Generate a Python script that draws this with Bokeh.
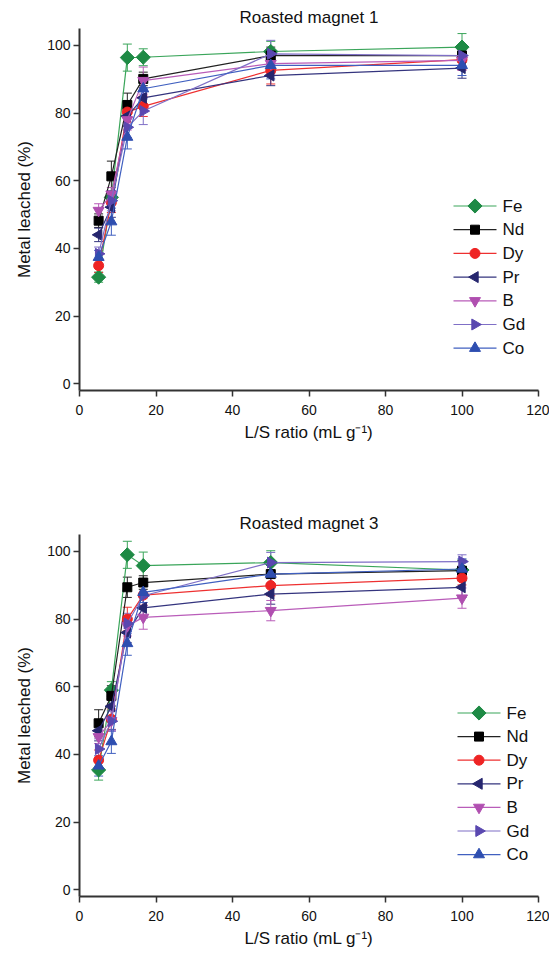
import numpy as np
from bokeh.plotting import figure
from bokeh.layouts import column
from bokeh.models import ColumnDataSource, Whisker, TeeHead, Range1d
from bokeh.core.properties import value
from bokeh.embed import file_html
from bokeh.resources import INLINE

ls_ratio = [5, 8.33, 12.5, 16.67, 50, 100]
metals = ["Fe", "Nd", "Dy", "Pr", "B", "Gd", "Co"]

# Roasted magnet 1
m1_values = {
    "Fe": [31.5, 55.1, 96.4, 96.5, 98.2, 99.5],
    "Nd": [48.2, 61.3, 82.4, 90.1, 97.0, 97.0],
    "Dy": [34.9, 53.6, 80.3, 82.0, 92.6, 95.8],
    "Pr": [44.0, 52.2, 79.1, 84.5, 91.1, 93.3],
    "B":  [51.2, 56.0, 78.0, 89.6, 94.6, 95.6],
    "Gd": [38.4, 54.1, 75.8, 80.6, 97.5, 97.0],
    "Co": [37.4, 47.9, 72.9, 87.2, 94.1, 94.1],
}
m1_errors = {
    "Fe": [1.5, 2.0, 4.0, 2.5, 3.0, 4.0],
    "Nd": [2.0, 4.5, 3.5, 2.0, 2.5, 2.0],
    "Dy": [2.0, 3.0, 3.0, 3.0, 4.0, 3.0],
    "Pr": [2.0, 3.0, 3.0, 3.0, 3.0, 3.0],
    "B":  [2.0, 2.0, 3.0, 4.0, 3.0, 3.0],
    "Gd": [2.0, 3.0, 3.0, 4.0, 4.0, 3.0],
    "Co": [2.0, 4.0, 3.5, 3.0, 4.0, 3.0],
}

# Roasted magnet 3
m3_values = {
    "Fe": [35.4, 59.0, 99.0, 95.8, 96.7, 94.5],
    "Nd": [49.2, 57.3, 89.4, 90.8, 93.3, 94.3],
    "Dy": [38.3, 50.4, 80.0, 87.1, 89.9, 92.1],
    "Pr": [47.0, 54.2, 76.0, 83.3, 87.4, 89.4],
    "B":  [45.2, 50.0, 78.0, 80.5, 82.5, 86.2],
    "Gd": [41.6, 49.8, 78.7, 86.9, 96.7, 97.0],
    "Co": [36.6, 43.8, 72.8, 87.9, 93.3, 94.8],
}
m3_errors = {
    "Fe": [3.0, 2.5, 4.0, 4.0, 3.5, 3.0],
    "Nd": [4.0, 3.0, 3.0, 2.0, 3.0, 3.0],
    "Dy": [3.0, 3.0, 3.5, 3.0, 3.0, 2.0],
    "Pr": [3.0, 3.0, 3.0, 3.0, 3.0, 3.0],
    "B":  [2.0, 3.0, 3.0, 3.5, 3.0, 3.0],
    "Gd": [3.0, 3.0, 3.0, 3.0, 3.0, 2.0],
    "Co": [3.0, 3.5, 3.5, 3.0, 3.0, 3.0],
}

x_ticks = [0, 20, 40, 60, 80, 100, 120]
y_ticks = [0, 20, 40, 60, 80, 100]

style = {
    "Fe": dict(marker="square", angle=np.pi / 4, fill="#1e8a45", line="#3aa55a", size=10),
    "Nd": dict(marker="square", angle=0.0, fill="#000000", line="#222222", size=9),
    "Dy": dict(marker="circle", angle=0.0, fill="#ee2424", line="#ee3030", size=10),
    "Pr": dict(marker="triangle", angle=np.pi / 2, fill="#26266e", line="#34347e", size=11),
    "B":  dict(marker="inverted_triangle", angle=0.0, fill="#b04fb0", line="#b95cb9", size=11),
    "Gd": dict(marker="triangle", angle=-np.pi / 2, fill="#5a48b0", line="#7f6fc6", size=11),
    "Co": dict(marker="triangle", angle=0.0, fill="#2e4eb0", line="#4060c0", size=11),
}

FONT = "Liberation Sans"
FRAME_W = 459
FRAME_H = 362


def make_fig(title, values, errors, top_border, legend_x, legend_y0, legend_step):
    p = figure(frame_width=FRAME_W, frame_height=FRAME_H, output_backend="svg",
               toolbar_location=None, x_range=Range1d(0, 120), y_range=Range1d(-2, 105),
               min_border_left=79, min_border_right=11, min_border_top=top_border,
               min_border_bottom=0, title=title)
    p.title.text_font = FONT
    p.title.text_font_size = "17px"
    p.title.text_font_style = "normal"
    p.title.align = "center"
    p.title.standoff = 4
    p.title.text_color = "#111111"
    p.grid.visible = False
    p.outline_line_color = None
    for ax in (p.xaxis[0], p.yaxis[0]):
        ax.axis_line_width = 2
        ax.axis_line_color = "#333333"
        ax.major_tick_line_color = "#333333"
        ax.major_tick_line_width = 1.5
        ax.major_tick_out = 6
        ax.major_tick_in = 0
        ax.minor_tick_line_color = None
        ax.major_label_text_font = FONT
        ax.major_label_text_font_size = "14px"
        ax.major_label_text_color = "#111111"
        ax.axis_label_text_font = FONT
        ax.axis_label_text_font_size = "17px"
        ax.axis_label_text_font_style = "normal"
        ax.axis_label_text_color = "#111111"
    p.xaxis.ticker = x_ticks
    p.yaxis.ticker = y_ticks
    p.xaxis.axis_label = "L/S ratio (mL g\u207b\u00b9)"
    p.yaxis.axis_label = "Metal leached (%)"
    p.xaxis.axis_label_standoff = 5
    p.yaxis.axis_label_standoff = 10
    p.xaxis.major_label_standoff = 8
    p.yaxis.major_label_standoff = 3

    # legend drawn in frame-pixel coordinates
    p.extra_x_ranges = {"leg": Range1d(0, FRAME_W)}
    p.extra_y_ranges = {"leg": Range1d(0, FRAME_H)}

    for i, m in enumerate(metals):
        st = style[m]
        v = np.array(values[m])
        e = np.array(errors[m])
        src = ColumnDataSource(dict(x=ls_ratio, y=values[m], lo=v - e, hi=v + e))
        w = Whisker(source=src, base="x", upper="hi", lower="lo", dimension="height",
                    line_color=st["line"], line_width=1,
                    upper_head=TeeHead(size=9, line_color=st["line"], line_width=1),
                    lower_head=TeeHead(size=9, line_color=st["line"], line_width=1))
        p.add_layout(w)
        p.line("x", "y", source=src, line_color=st["line"], line_width=1.2)
        p.scatter("x", "y", source=src, marker=st["marker"], angle=st["angle"],
                  size=st["size"], fill_color=st["fill"], line_color=st["fill"])

        # legend entry
        ly = legend_y0 - legend_step * i
        p.line([legend_x, legend_x + 43], [ly, ly], line_color=st["line"], line_width=1.2,
               x_range_name="leg", y_range_name="leg")
        p.scatter([legend_x + 21.5], [ly], marker=st["marker"], angle=st["angle"],
                  size=st["size"], fill_color=st["fill"], line_color=st["fill"],
                  x_range_name="leg", y_range_name="leg")
        p.text([legend_x + 49], [ly], text=[m], text_font=value(FONT), text_font_size="17px",
               text_color="#111111", text_baseline="middle", text_align="left",
               x_range_name="leg", y_range_name="leg")
    return p


p1 = make_fig("Roasted magnet 1", m1_values, m1_errors, 28, 374, 184.5, 23.7)
p2 = make_fig("Roasted magnet 3", m3_values, m3_errors, 90, 378, 183.5, 23.6)
layout = column(p1, p2)

open("out.html", "w").write(file_html(layout, INLINE))
